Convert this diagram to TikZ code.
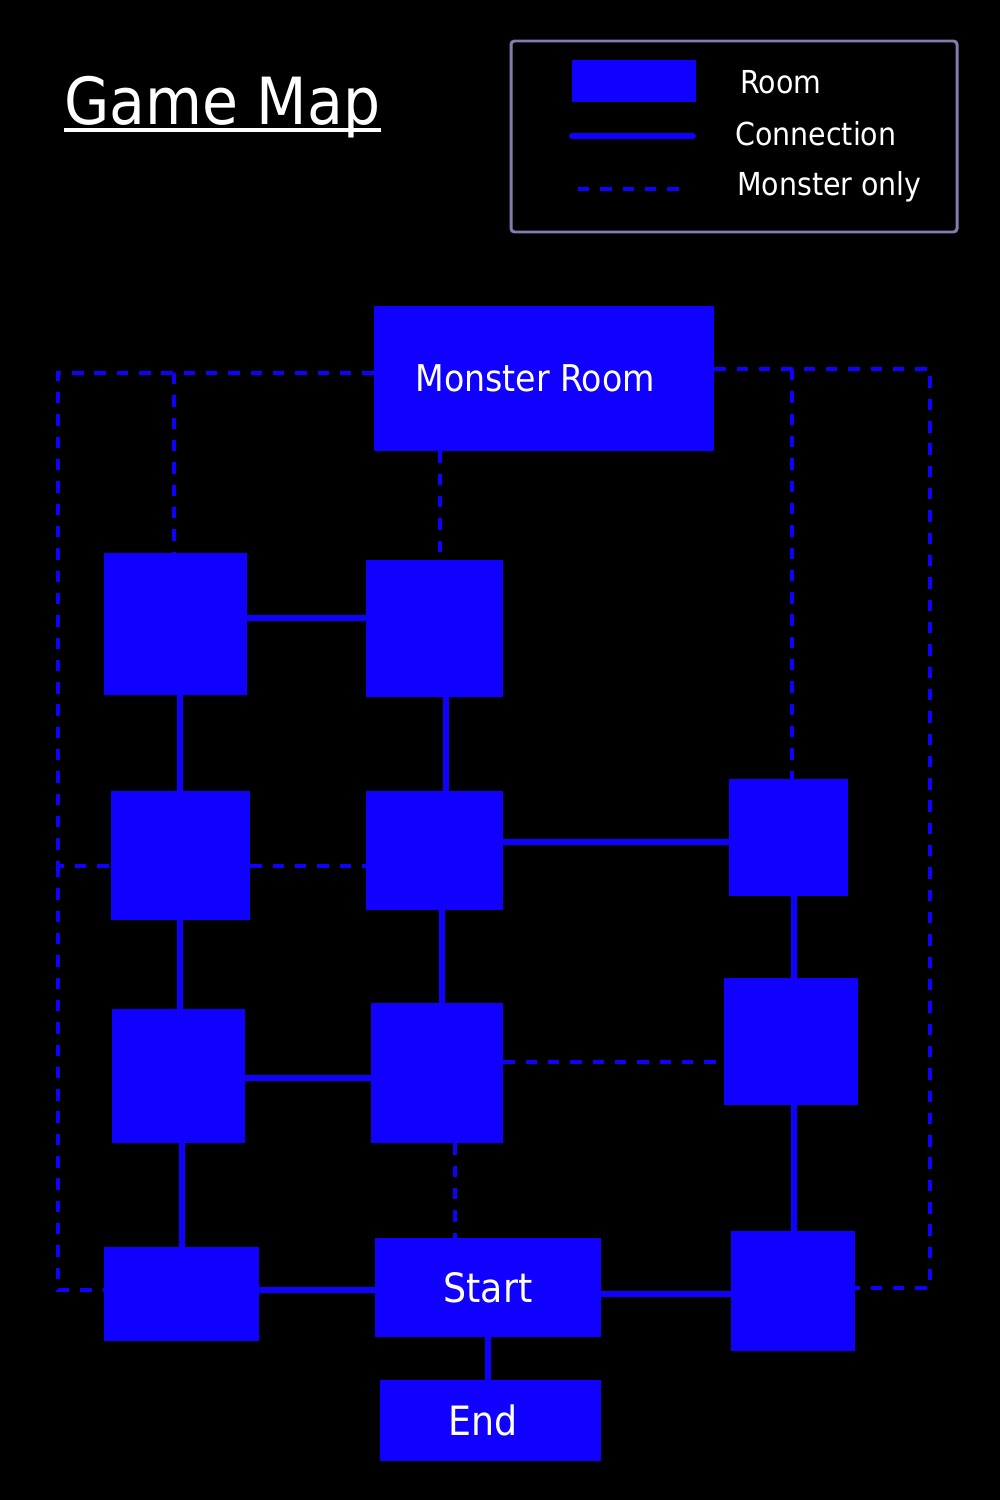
\documentclass[tikz,border=0pt]{standalone}
\usepackage{fontspec}
\setmainfont{DejaVu Sans Condensed}
\definecolor{roomblue}{RGB}{15,0,255}
\definecolor{legendframe}{RGB}{130,125,175}

\begin{document}
\begin{tikzpicture}[x=0.02cm, y=-0.02cm,
    room/.style 2 args={fill=roomblue, inner sep=0pt,
      minimum width={#1*0.02cm}, minimum height={#2*0.02cm},
      text=white, font=\fontsize{23}{26}\selectfont},
    conn/.style={draw=roomblue, line width=3.4pt},
    monster/.style={draw=roomblue, line width=2.3pt,
      dash pattern=on 6.5pt off 6.2pt},
    legendtext/.style={anchor=west, inner sep=0pt, text=white,
      font=\fontsize{18}{21}\selectfont}]
    \fill[black] (0, 0) rectangle (1000, 1500);
    \useasboundingbox (0, 0) rectangle (1000, 1500);

    \node[anchor=base west, inner sep=0pt, text=white,
      font=\fontsize{37}{40}\selectfont] (title) at (64, 125) {Game Map};
    \draw[white, line width=1.8pt]
      ([yshift=-0.1cm]title.base west) --
      ([yshift=-0.1cm]title.base east);

    \node[draw=legendframe, line width=1.7pt, rounded corners=2pt,
      minimum width={446*0.02cm}, minimum height={191*0.02cm}]
      (legend) at (734, 136.5) {};
    \node[room={124}{42}] (keyroom) at (634, 81) {};
    \coordinate (keyconnA) at (572, 136);
    \coordinate (keyconnB) at (693, 136);
    \coordinate (keymonA) at (578, 189);
    \coordinate (keymonB) at (682, 189);
    \draw[conn, line cap=round] (keyconnA) -- (keyconnB);
    \draw[monster] (keymonA) -- (keymonB);
    \node[legendtext] (keyroomtext) at (740, 82) {Room};
    \node[legendtext] (keyconntext) at (735, 134) {Connection};
    \node[legendtext] (keymontext) at (737, 187) {Monster only};

    \node[room={340}{145}, font=\fontsize{21}{24}\selectfont]
      (mroom) at (544, 378.5) {\hspace*{-0.36cm}Monster Room};
    \node[room={143}{142}] (r1) at (175.5, 624) {};
    \node[room={137}{137}] (r2) at (434.5, 628.5) {};
    \node[room={139}{129}] (r3) at (180.5, 855.5) {};
    \node[room={137}{119}] (r4) at (434.5, 850.5) {};
    \node[room={119}{117}] (r5) at (788.5, 837.5) {};
    \node[room={133}{134}] (r6) at (178.5, 1076) {};
    \node[room={132}{140}] (r7) at (437, 1073) {};
    \node[room={134}{127}] (r8) at (791, 1041.5) {};
    \node[room={155}{94}] (r9) at (181.5, 1294) {};
    \node[room={226}{99}] (start) at (488, 1287.5) {Start};
    \node[room={124}{120}] (r10) at (793, 1291) {};
    \node[room={221}{81}] (endroom) at (490.5, 1420.5) {\hspace*{-0.28cm}End};

    \coordinate (ltop) at (58, 373);
    \coordinate (lmid) at (58, 866);
    \coordinate (lbot) at (58, 1290);
    \coordinate (ltap) at (174, 373);
    \coordinate (rtop) at (930, 369);
    \coordinate (rbot) at (930, 1288);
    \coordinate (rtap) at (792, 369);

    \draw[monster] (mroom.west |- ltop) -- (ltop) -- (lmid) -- (r3.west |- lmid);
    \draw[monster] (lmid) -- (lbot) -- (r9.west |- lbot);
    \draw[monster] (ltap) -- (r1.north -| ltap);
    \draw[monster] (mroom.south -| 440, 0) -- (r2.north -| 440, 0);
    \draw[monster] (r3.east |- lmid) -- (r4.west |- lmid);
    \draw[monster] (mroom.east |- rtop) -- (rtop) -- (rbot) -- (r10.east |- rbot);
    \draw[monster] (rtap) -- (r5.north -| rtap);
    \draw[monster] (r7.east |- 0, 1062) -- (r8.west |- 0, 1062);
    \draw[monster] (r7.south -| 455, 0) -- (start.north -| 455, 0);

    \draw[conn] (r1.east |- 0, 618) -- (r2.west |- 0, 618);
    \draw[conn] (r1.south -| 180, 0) -- (r3.north -| 180, 0);
    \draw[conn] (r2.south -| 446, 0) -- (r4.north -| 446, 0);
    \draw[conn] (r4.east |- 0, 842) -- (r5.west |- 0, 842);
    \draw[conn] (r3.south -| 180, 0) -- (r6.north -| 180, 0);
    \draw[conn] (r4.south -| 442, 0) -- (r7.north -| 442, 0);
    \draw[conn] (r6.east |- 0, 1078) -- (r7.west |- 0, 1078);
    \draw[conn] (r6.south -| 182, 0) -- (r9.north -| 182, 0);
    \draw[conn] (r9.east |- 0, 1290) -- (start.west |- 0, 1290);
    \draw[conn] (start.east |- 0, 1294) -- (r10.west |- 0, 1294);
    \draw[conn] (start.south) -- (endroom.north -| start.south);
    \draw[conn] (r5.south -| 794, 0) -- (r8.north -| 794, 0);
    \draw[conn] (r8.south -| 794, 0) -- (r10.north -| 794, 0);
  \end{tikzpicture}
\end{document}
